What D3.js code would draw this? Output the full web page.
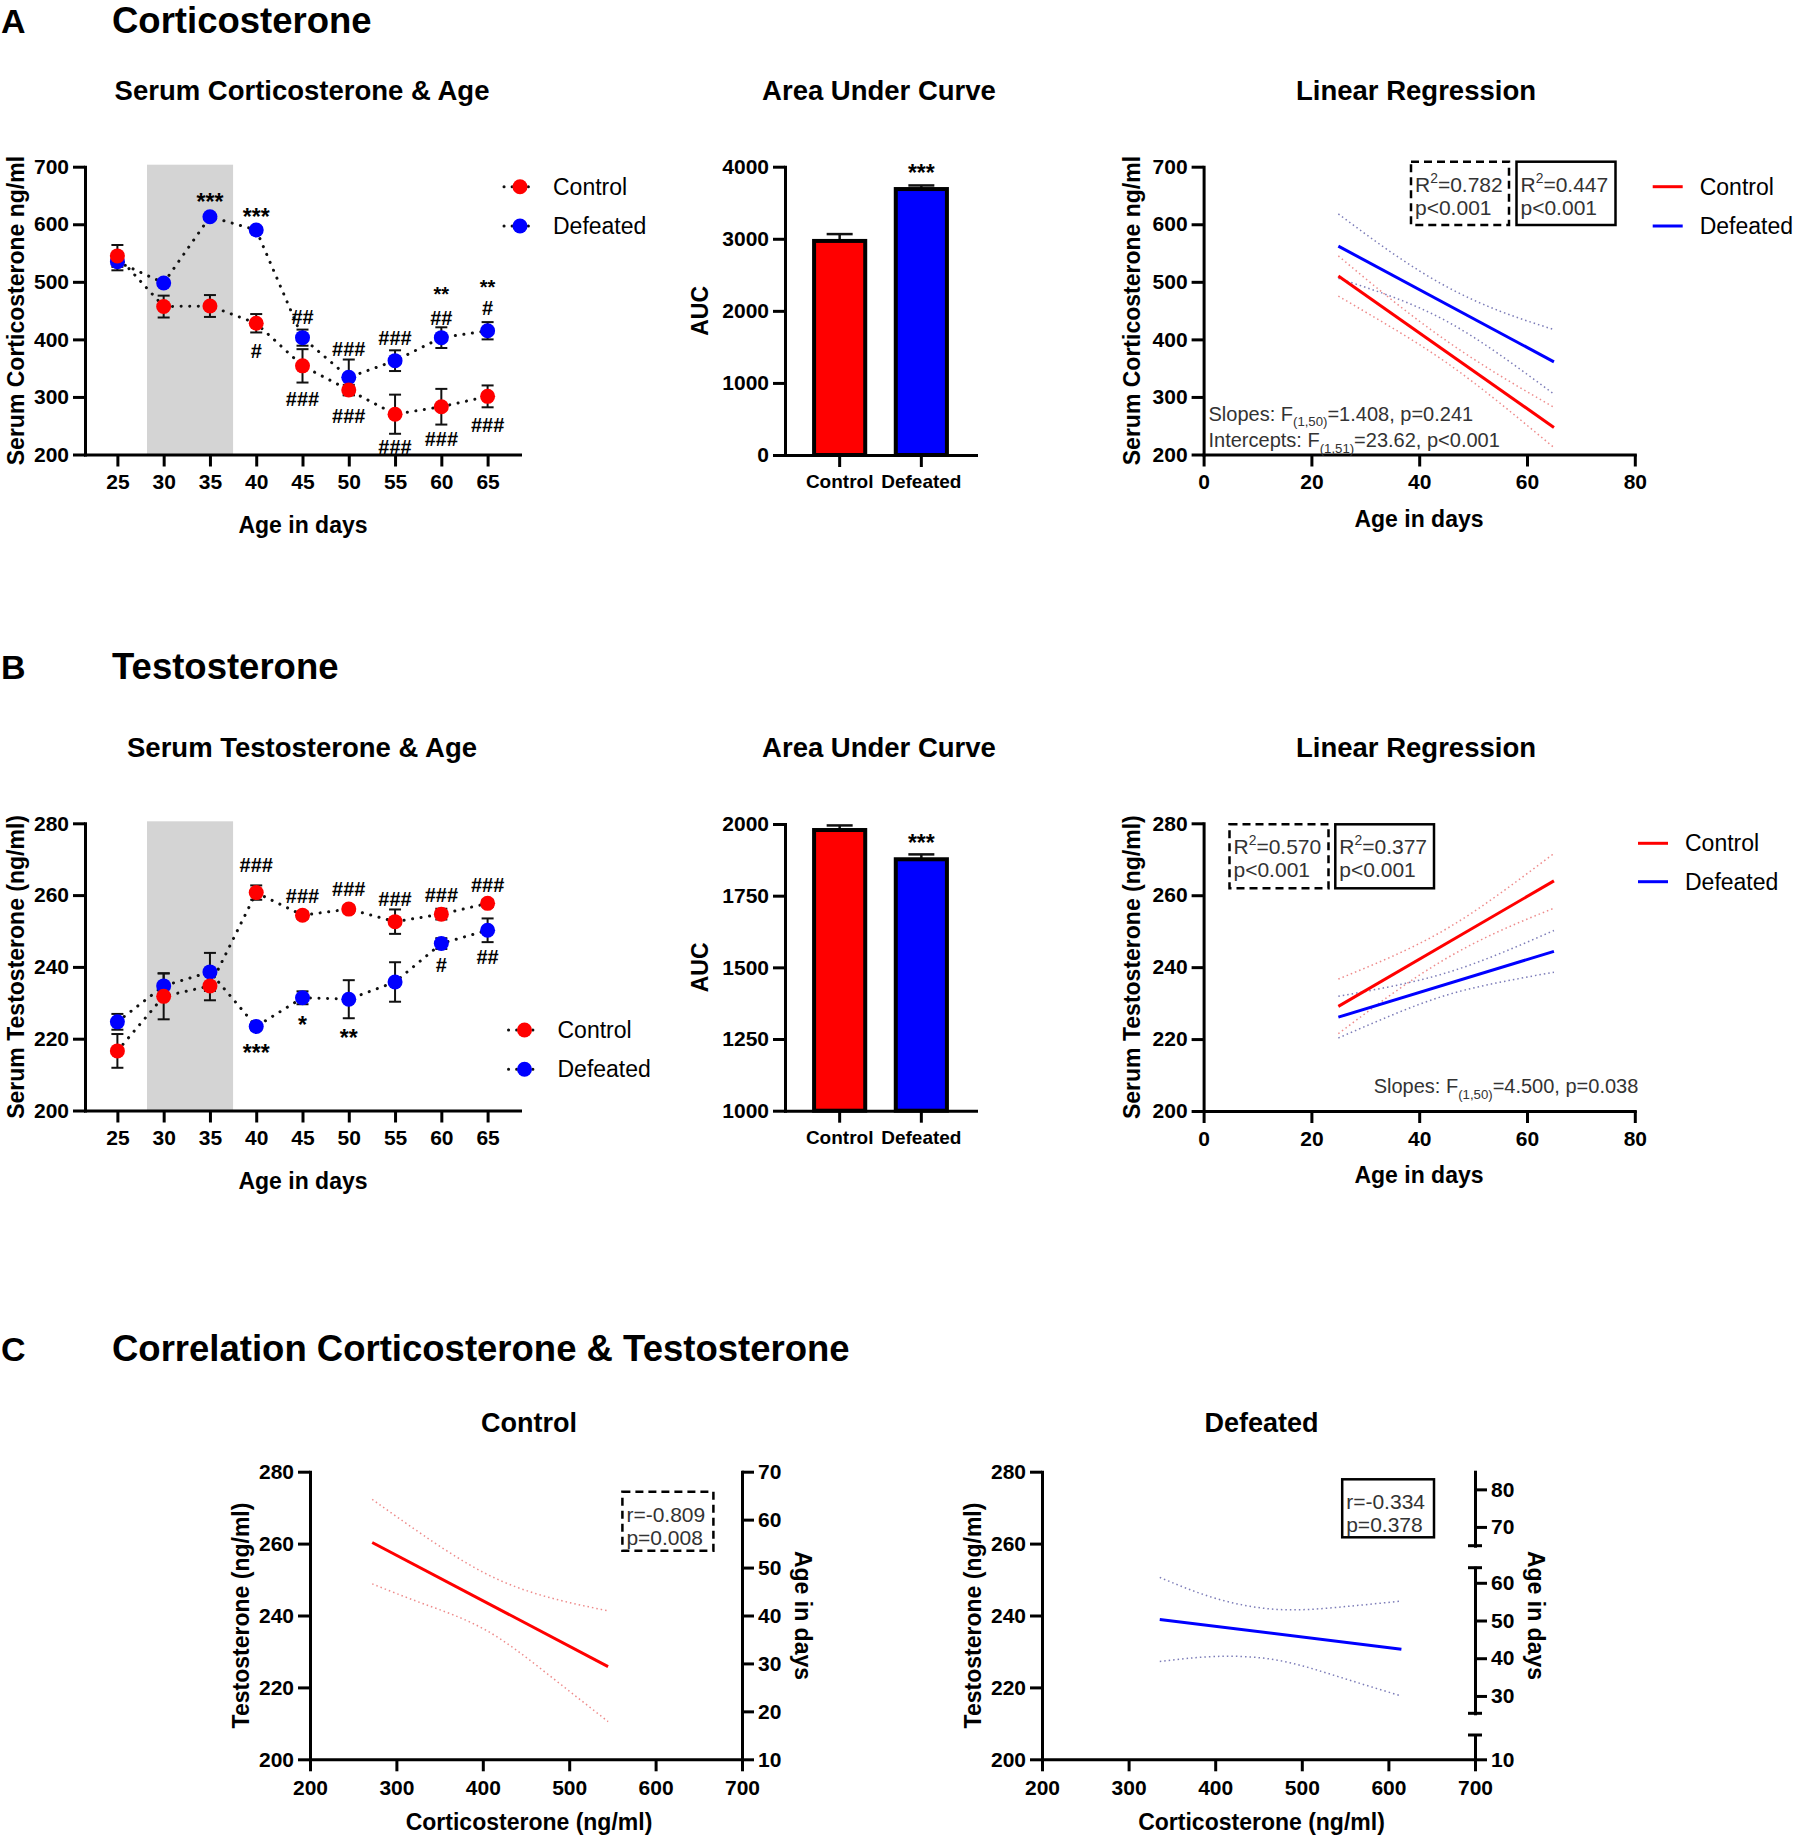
<!DOCTYPE html>
<html>
<head>
<meta charset="utf-8">
<title>Corticosterone and Testosterone</title>
<script src="https://cdn.jsdelivr.net/npm/d3@7"></script>
<style>
  body { margin: 0; background: #fff; }
  svg { display: block; }
</style>
</head>
<body>
<svg id="fig" width="1800" height="1841"></svg>
<script>
// ---------- data ----------
const ages = [25, 30, 35, 40, 45, 50, 55, 60, 65];
const shadeDays = [28.2, 37.5];

const cortControl     = [545, 457, 458, 428, 354, 312, 270, 283, 301];
const cortControlSem  = [19, 19, 19, 16, 29, 9, 34, 31, 19];
const cortDefeated    = [535, 498, 613, 590, 403, 334, 363, 403, 415];
const cortDefeatedSem = [15, 5, 5, 5, 14, 31, 18, 18, 15];

const testControl     = [216.6, 231.8, 234.7, 260.7, 254.4, 256.1, 252.6, 254.7, 257.7];
const testControlSem  = [4.7, 6.4, 4.0, 2.0, 1.0, 1.0, 3.4, 1.5, 1.0];
const testDefeated    = [224.7, 234.7, 238.6, 223.4, 231.4, 231.0, 235.8, 246.5, 250.2];
const testDefeatedSem = [2.2, 3.5, 5.3, 1.0, 1.8, 5.3, 5.5, 1.5, 3.3];

// significance marks: [age, level(s) on the y scale, label(s)]
const cortMarks = [
  [35, 649, "***"], [40, 622, "***"], [40, 380, "#"], [45, 439, "##"], [45, 297, "###"],
  [50, 383, "###"], [50, 268, "###"], [55, 402, "###"], [55, 214, "###"],
  [60, [479, 445], ["**", "##"]], [60, 228, "###"],
  [65, [491, 461], ["**", "#"]], [65, 251, "###"]
];
const testMarks = [
  [40, 268.4, "###"], [45, 259.7, "###"], [50, 261.7, "###"], [55, 259.1, "###"],
  [60, 260.2, "###"], [65, 262.8, "###"],
  [40, 217.7, "***"], [45, 225.3, "*"], [50, 221.9, "**"], [60, 240.5, "#"], [65, 242.8, "##"]
];

const groups = ["Control", "Defeated"];
const cortAuc = [2970, 3690];
const cortAucSem = [95, 50];
const testAuc = [1979, 1877];
const testAucSem = [16, 17];
const cortAucMark = [["Defeated", 4000, "***"]];
const testAucMark = [["Defeated", 1953, "***"]];

// regression fits and 95% bands
const fitAges = [25, 65];
const bandAges = [25, 35, 45, 55, 65];
const cortFitControl  = [510, 247];
const cortFitDefeated = [562, 361];
const cortBandControlHi  = [545, 468, 398, 337, 282];
const cortBandControlLo  = [475, 420, 360, 289, 212];
const cortBandDefeatedHi = [618, 550, 492, 449, 417];
const cortBandDefeatedLo = [506, 474, 432, 373, 305];

const testFitControl  = [229.1, 264.0];
const testFitDefeated = [226.1, 244.4];
const testBandControlHi  = [236.7, 243.0, 250.6, 260.5, 271.6];
const testBandControlLo  = [221.5, 232.6, 242.4, 250.1, 256.4];
const testBandDefeatedHi = [231.9, 234.7, 238.4, 243.8, 250.2];
const testBandDefeatedLo = [220.3, 226.7, 232.2, 235.8, 238.6];

// correlation (corticosterone vs testosterone)
const corrCtlX   = [272, 545];
const corrCtlFit = [260.3, 225.8];
const corrCtlBandX  = [272, 332, 403, 474, 545];
const corrCtlBandHi = [272.3, 262.2, 251.7, 245.2, 241.3];
const corrCtlBandLo = [248.8, 243.2, 236.0, 223.9, 210.5];
const corrDefX   = [336, 615];
const corrDefFit = [238.9, 230.6];
const corrDefBandX  = [336, 400, 471, 542, 615];
const corrDefBandHi = [250.6, 244.8, 241.7, 242.3, 244.0];
const corrDefBandLo = [227.2, 228.6, 227.6, 223.0, 217.6];

// tick values
const cortTicks = [200, 300, 400, 500, 600, 700];
const testTicks = [200, 220, 240, 260, 280];
const cortAucTicks = [0, 1000, 2000, 3000, 4000];
const testAucTicks = [1000, 1250, 1500, 1750, 2000];
const regAgeTicks = [0, 20, 40, 60, 80];
const corrTicks = [200, 300, 400, 500, 600, 700];
const ageRightTicks = [10, 20, 30, 40, 50, 60, 70];
// broken right axis of the Defeated correlation: [from, to, ticks]
const ageBreakSegments = [[65, 84.7, [70, 80]], [25.4, 64, [30, 40, 50, 60]], [10, 16.4, [10]]];

// ---------- drawing ----------
const FONT = '"Liberation Sans", Arial, Helvetica, sans-serif';
const RED = "#ff0000", BLUE = "#0000ff";
const svg = d3.select("#fig").attr("font-family", FONT);
const fmt = d3.format("d");

function addAxis(g, axis, tx, ty, size) {
  const a = g.append("g").attr("transform", "translate(" + tx + "," + ty + ")").call(axis);
  a.attr("font-size", size || 21).attr("font-family", FONT).attr("font-weight", "bold");
  a.select(".domain").attr("stroke", "#000").attr("stroke-width", 3).attr("stroke-linecap", "square");
  a.selectAll(".tick line").attr("stroke", "#000").attr("stroke-width", 3);
  a.selectAll(".tick text").attr("fill", "#000");
  return a;
}

function label(g, text, x, y, size, opts) {
  opts = opts || {};
  return g.append("text")
    .attr("transform", "translate(" + x + "," + y + ") rotate(" + (opts.rotate || 0) + ")")
    .attr("text-anchor", opts.anchor || "middle")
    .attr("dy", opts.dy || "0.35em")
    .attr("font-size", size)
    .attr("font-weight", opts.weight || "bold")
    .attr("fill", opts.fill || "#000")
    .text(text);
}

// text with sup / sub parts, y is baseline
function richText(g, x, y, parts, size) {
  const t = g.append("text").attr("x", x).attr("y", y).attr("font-size", size).attr("fill", "#333");
  let shift = 0;
  parts.forEach(p => {
    const target = p.sup ? -0.42 * size : p.sub ? 0.28 * size : 0;
    t.append("tspan").attr("dy", target - shift)
      .attr("font-size", (p.sup || p.sub) ? size * 0.66 : size).text(p.t);
    shift = target;
  });
}

// a significance mark; stacked marks are spread a little so their boxes stay apart
function sigMark(g, x, yScale, level, text) {
  const levels = Array.isArray(level) ? level : [level];
  const texts = Array.isArray(text) ? text : [text];
  const stacked = texts.length > 1;
  texts.forEach((s, i) => {
    const star = s.indexOf("*") >= 0;
    const size = star ? (stacked ? 20 : 23) : 20;
    const nudge = stacked ? (i === 0 ? -5 : 4) : 0;
    g.append("text").attr("x", x)
      .attr("y", yScale(levels[i]) + nudge + (star ? 0.6 : 0.36) * size)
      .attr("text-anchor", "middle").attr("font-weight", "bold")
      .attr("font-size", size).text(s);
  });
}

function statBox(g, x, y, w, h, dashed, lines) {
  g.append("rect").attr("x", x).attr("y", y).attr("width", w).attr("height", h)
    .attr("fill", "none").attr("stroke", "#000").attr("stroke-width", 2.5)
    .attr("stroke-dasharray", dashed ? "8 5" : null);
  lines.forEach((parts, i) => richText(g, x + 4, y + 30 + i * 23, parts, 21));
}

// ---------- time course panels ----------
function timeCourse(cfg) {
  const g = svg.append("g");
  const x = d3.scaleLinear().domain([21.5, 68.5]).range([85, 520]);
  const y = d3.scaleLinear().domain(cfg.yDomain).range([cfg.bottom, cfg.top]);

  g.append("rect")
    .attr("x", x(shadeDays[0])).attr("width", x(shadeDays[1]) - x(shadeDays[0]))
    .attr("y", y(cfg.yDomain[1]) - 2).attr("height", y(cfg.yDomain[0]) - y(cfg.yDomain[1]) + 2)
    .attr("fill", "#d4d4d4");

  addAxis(g, d3.axisLeft(y).tickValues(cfg.yTicks).tickFormat(fmt).tickSize(12).tickSizeOuter(0).tickPadding(4), 85, 0);
  addAxis(g, d3.axisBottom(x).tickValues(ages).tickFormat(fmt).tickSize(12).tickSizeOuter(0).tickPadding(8), 0, cfg.bottom);

  const series = cfg.series.map(s => Object.assign({}, s, {
    pts: ages.map((a, i) => ({ a: a, v: s.values[i], e: s.sem[i] }))
  }));

  const line = d3.line().x(d => x(d.a)).y(d => y(d.v));
  series.forEach(s => {
    g.append("path").datum(s.pts).attr("d", line)
      .attr("fill", "none").attr("stroke", "#111").attr("stroke-width", 3)
      .attr("stroke-linecap", "round").attr("stroke-dasharray", "0.1 8.5");
  });
  series.forEach(s => {
    const eb = g.append("g").attr("stroke", "#111").attr("stroke-width", 2)
      .selectAll("g").data(s.pts).join("g");
    eb.append("line").attr("x1", d => x(d.a)).attr("x2", d => x(d.a))
      .attr("y1", d => y(d.v - d.e)).attr("y2", d => y(d.v + d.e));
    eb.append("line").attr("x1", d => x(d.a) - 6).attr("x2", d => x(d.a) + 6)
      .attr("y1", d => y(d.v + d.e)).attr("y2", d => y(d.v + d.e));
    eb.append("line").attr("x1", d => x(d.a) - 6).attr("x2", d => x(d.a) + 6)
      .attr("y1", d => y(d.v - d.e)).attr("y2", d => y(d.v - d.e));
  });
  series.forEach(s => {
    g.append("g").selectAll("circle").data(s.pts).join("circle")
      .attr("cx", d => x(d.a)).attr("cy", d => y(d.v)).attr("r", 7.5)
      .attr("fill", s.color);
  });

  cfg.marks.forEach(m => sigMark(g, x(m[0]), y, m[1], m[2]));

  // legend
  cfg.legend.items.forEach((it, i) => {
    const ly = cfg.legend.y + i * cfg.legend.gap;
    g.append("line").attr("x1", cfg.legend.x - 16).attr("x2", cfg.legend.x + 16)
      .attr("y1", ly).attr("y2", ly)
      .attr("stroke", "#111").attr("stroke-width", 3).attr("stroke-linecap", "round")
      .attr("stroke-dasharray", "0.1 8");
    g.append("circle").attr("cx", cfg.legend.x).attr("cy", ly).attr("r", 7.5).attr("fill", it.color);
    label(g, it.name, cfg.legend.x + 33, ly, 23, { anchor: "start", weight: "normal" });
  });

  label(g, cfg.yTitle, 16, (cfg.top + cfg.bottom) / 2, 23, { rotate: -90 });
  label(g, "Age in days", 303, cfg.bottom + 70, 23);
}

// ---------- AUC bar panels ----------
function aucPanel(cfg) {
  const g = svg.append("g");
  const x = d3.scaleBand().domain(groups).range([785, 976]).paddingInner(0.374).paddingOuter(0.356);
  const y = d3.scaleLinear().domain(cfg.yDomain).range([cfg.bottom, cfg.top]);
  const colors = [RED, BLUE];
  const cx = d => x(d.g) + x.bandwidth() / 2;

  const data = groups.map((gname, i) => ({ g: gname, v: cfg.values[i], e: cfg.sem[i], c: colors[i] }));

  const eb = g.append("g").attr("stroke", "#111").attr("stroke-width", 2.5)
    .selectAll("g").data(data).join("g");
  eb.append("line").attr("x1", cx).attr("x2", cx)
    .attr("y1", d => y(d.v)).attr("y2", d => y(d.v + d.e));
  eb.append("line").attr("x1", d => cx(d) - 13).attr("x2", d => cx(d) + 13)
    .attr("y1", d => y(d.v + d.e)).attr("y2", d => y(d.v + d.e));

  g.append("g").selectAll("rect").data(data).join("rect")
    .attr("x", d => x(d.g)).attr("width", x.bandwidth())
    .attr("y", d => y(d.v)).attr("height", d => y(cfg.yDomain[0]) - y(d.v))
    .attr("fill", d => d.c).attr("stroke", "#000").attr("stroke-width", 4);

  addAxis(g, d3.axisLeft(y).tickValues(cfg.yTicks).tickFormat(fmt).tickSize(12).tickSizeOuter(0).tickPadding(4), 785, 0);
  addAxis(g, d3.axisBottom(x).tickSize(12).tickSizeOuter(0).tickPadding(8), 0, cfg.bottom, 19);

  cfg.marks.forEach(m => sigMark(g, x(m[0]) + x.bandwidth() / 2, y, m[1], m[2]));
  label(g, "AUC", 700, (cfg.top + cfg.bottom) / 2, 23, { rotate: -90 });
}

// ---------- regression panels ----------
function regressionPanel(cfg) {
  const g = svg.append("g");
  const x = d3.scaleLinear().domain([0, 80]).range([1203.6, 1634.8]);
  const y = d3.scaleLinear().domain(cfg.yDomain).range([cfg.bottom, cfg.top]);

  addAxis(g, d3.axisLeft(y).tickValues(cfg.yTicks).tickFormat(fmt).tickSize(12).tickSizeOuter(0).tickPadding(4), 1203.6, 0);
  addAxis(g, d3.axisBottom(x).tickValues(regAgeTicks).tickFormat(fmt).tickSize(12).tickSizeOuter(0).tickPadding(8), 0, cfg.bottom);

  const curve = d3.line().x(d => x(d[0])).y(d => y(d[1])).curve(d3.curveNatural);
  const straight = d3.line().x(d => x(d[0])).y(d => y(d[1]));
  cfg.series.forEach(s => {
    [s.hi, s.lo].forEach(vals => {
      g.append("path").attr("d", curve(bandAges.map((a, i) => [a, vals[i]])))
        .attr("fill", "none").attr("stroke", s.band).attr("stroke-width", 1.5)
        .attr("stroke-dasharray", "1.5 3");
    });
  });
  cfg.series.forEach(s => {
    g.append("path").attr("d", straight(fitAges.map((a, i) => [a, s.fit[i]])))
      .attr("fill", "none").attr("stroke", s.color).attr("stroke-width", 3);
  });

  cfg.boxes.forEach(b => statBox(g, b.x, b.y, b.w, b.h, b.dashed, b.lines));
  cfg.notes.forEach(n => richText(g, n.x, n.y, n.parts, 20));

  cfg.legend.items.forEach((it, i) => {
    const ly = cfg.legend.y + i * cfg.legend.gap;
    g.append("line").attr("x1", cfg.legend.x).attr("x2", cfg.legend.x + 30)
      .attr("y1", ly).attr("y2", ly).attr("stroke", it.color).attr("stroke-width", 3);
    label(g, it.name, cfg.legend.x + 47, ly, 23, { anchor: "start", weight: "normal" });
  });

  label(g, cfg.yTitle, 1132, (cfg.top + cfg.bottom) / 2, 23, { rotate: -90 });
  label(g, "Age in days", 1419, cfg.bottom + 64, 23);
}

// ---------- correlation panels ----------
function correlationPanel(cfg) {
  const g = svg.append("g");
  const top = 1471.7, bottom = 1759.3;
  const x = d3.scaleLinear().domain([200, 700]).range([cfg.left, cfg.right]);
  const y = d3.scaleLinear().domain([200, 280]).range([bottom, top]);

  addAxis(g, d3.axisLeft(y).tickValues(testTicks).tickFormat(fmt).tickSize(12).tickSizeOuter(0).tickPadding(4), cfg.left, 0);
  addAxis(g, d3.axisBottom(x).tickValues(corrTicks).tickFormat(fmt).tickSize(12).tickSizeOuter(0).tickPadding(9), 0, bottom);

  if (cfg.broken) {
    // three pieces of a broken age axis, each with its own scale
    const pieceRanges = [[1545.7, top], [1713.3, 1567.7], [bottom, 1735]];
    ageBreakSegments.forEach((seg, i) => {
      const sy = d3.scaleLinear().domain([seg[0], seg[1]]).range(pieceRanges[i]);
      addAxis(g, d3.axisRight(sy).tickValues(seg[2]).tickFormat(fmt).tickSize(12).tickSizeOuter(0).tickPadding(4), cfg.right, 0);
      sy.range().forEach((py, k) => {
        if ((i === 0 && k === 1) || (i === ageBreakSegments.length - 1 && k === 0)) return;
        g.append("line").attr("x1", cfg.right - 7).attr("x2", cfg.right + 7)
          .attr("y1", py).attr("y2", py).attr("stroke", "#000").attr("stroke-width", 3);
      });
    });
  } else {
    const yr = d3.scaleLinear().domain([10, 70]).range([bottom, top]);
    addAxis(g, d3.axisRight(yr).tickValues(ageRightTicks).tickFormat(fmt).tickSize(12).tickSizeOuter(0).tickPadding(4), cfg.right, 0);
  }

  const curve = d3.line().x(d => x(d[0])).y(d => y(d[1])).curve(d3.curveNatural);
  [cfg.bandHi, cfg.bandLo].forEach(vals => {
    g.append("path").attr("d", curve(cfg.bandX.map((v, i) => [v, vals[i]])))
      .attr("fill", "none").attr("stroke", cfg.band).attr("stroke-width", 1.5)
      .attr("stroke-dasharray", "1.5 3");
  });
  g.append("path").attr("d", d3.line().x(d => x(d[0])).y(d => y(d[1]))(cfg.fitX.map((v, i) => [v, cfg.fit[i]])))
    .attr("fill", "none").attr("stroke", cfg.color).attr("stroke-width", 3);

  statBox(g, cfg.box.x, cfg.box.y, cfg.box.w, cfg.box.h, cfg.box.dashed, cfg.box.lines);

  label(g, cfg.title, (cfg.left + cfg.right) / 2 + 3, 1423, 27);
  label(g, "Testosterone (ng/ml)", cfg.left - 69, (top + bottom) / 2, 23, { rotate: -90 });
  label(g, "Age in days", cfg.right + 61, (top + bottom) / 2, 23, { rotate: 90 });
  label(g, "Corticosterone (ng/ml)", (cfg.left + cfg.right) / 2 + 3, 1821.7, 23);
}

// ---------- headers ----------
[["A", 33, "Corticosterone"], ["B", 679, "Testosterone"], ["C", 1361, "Correlation Corticosterone & Testosterone"]]
  .forEach(h => {
    svg.append("text").attr("x", 1).attr("y", h[1]).attr("font-size", 34).attr("font-weight", "bold").text(h[0]);
    svg.append("text").attr("x", 112).attr("y", h[1]).attr("font-size", 36.5).attr("font-weight", "bold").text(h[2]);
  });
[["Serum Corticosterone & Age", 302, 90], ["Area Under Curve", 879, 90], ["Linear Regression", 1416, 90],
 ["Serum Testosterone & Age", 302, 747], ["Area Under Curve", 879, 747], ["Linear Regression", 1416, 747]]
  .forEach(t => label(svg, t[0], t[1], t[2], 27.5));

// ---------- panels ----------
timeCourse({
  yDomain: [200, 700], top: 166.7, bottom: 454.5, yTicks: cortTicks,
  yTitle: "Serum Corticosterone ng/ml",
  series: [
    { name: "Defeated", color: BLUE, values: cortDefeated, sem: cortDefeatedSem },
    { name: "Control", color: RED, values: cortControl, sem: cortControlSem }
  ],
  marks: cortMarks,
  legend: { x: 520, y: 186.7, gap: 39.3, items: [{ name: "Control", color: RED }, { name: "Defeated", color: BLUE }] }
});

timeCourse({
  yDomain: [200, 280], top: 823.3, bottom: 1110.5, yTicks: testTicks,
  yTitle: "Serum Testosterone (ng/ml)",
  series: [
    { name: "Defeated", color: BLUE, values: testDefeated, sem: testDefeatedSem },
    { name: "Control", color: RED, values: testControl, sem: testControlSem }
  ],
  marks: testMarks,
  legend: { x: 524.5, y: 1030, gap: 39.3, items: [{ name: "Control", color: RED }, { name: "Defeated", color: BLUE }] }
});

aucPanel({ yDomain: [0, 4000], top: 166.7, bottom: 455, yTicks: cortAucTicks,
  values: cortAuc, sem: cortAucSem, marks: cortAucMark });
aucPanel({ yDomain: [1000, 2000], top: 824, bottom: 1110.7, yTicks: testAucTicks,
  values: testAuc, sem: testAucSem, marks: testAucMark });

regressionPanel({
  yDomain: [200, 700], top: 166.7, bottom: 454.5, yTicks: cortTicks,
  yTitle: "Serum Corticosterone ng/ml",
  series: [
    { color: RED, band: "#ee8a8a", fit: cortFitControl, hi: cortBandControlHi, lo: cortBandControlLo },
    { color: BLUE, band: "#7c7cb8", fit: cortFitDefeated, hi: cortBandDefeatedHi, lo: cortBandDefeatedLo }
  ],
  boxes: [
    { x: 1411, y: 161.7, w: 98, h: 63.3, dashed: true, lines: [[{ t: "R" }, { t: "2", sup: true }, { t: "=0.782" }], [{ t: "p<0.001" }]] },
    { x: 1516.5, y: 161.7, w: 99, h: 63.3, dashed: false, lines: [[{ t: "R" }, { t: "2", sup: true }, { t: "=0.447" }], [{ t: "p<0.001" }]] }
  ],
  notes: [
    { x: 1208.5, y: 420.5, parts: [{ t: "Slopes: F" }, { t: "(1,50)", sub: true }, { t: "=1.408, p=0.241" }] },
    { x: 1208.5, y: 447, parts: [{ t: "Intercepts: F" }, { t: "(1,51)", sub: true }, { t: "=23.62, p<0.001" }] }
  ],
  legend: { x: 1652.7, y: 186.7, gap: 39.3, items: [{ name: "Control", color: RED }, { name: "Defeated", color: BLUE }] }
});

regressionPanel({
  yDomain: [200, 280], top: 823.3, bottom: 1111, yTicks: testTicks,
  yTitle: "Serum Testosterone (ng/ml)",
  series: [
    { color: RED, band: "#ee8a8a", fit: testFitControl, hi: testBandControlHi, lo: testBandControlLo },
    { color: BLUE, band: "#7c7cb8", fit: testFitDefeated, hi: testBandDefeatedHi, lo: testBandDefeatedLo }
  ],
  boxes: [
    { x: 1229.5, y: 824.3, w: 99, h: 64, dashed: true, lines: [[{ t: "R" }, { t: "2", sup: true }, { t: "=0.570" }], [{ t: "p<0.001" }]] },
    { x: 1335.3, y: 824.3, w: 98.7, h: 64, dashed: false, lines: [[{ t: "R" }, { t: "2", sup: true }, { t: "=0.377" }], [{ t: "p<0.001" }]] }
  ],
  notes: [
    { x: 1373.7, y: 1093, parts: [{ t: "Slopes: F" }, { t: "(1,50)", sub: true }, { t: "=4.500, p=0.038" }] }
  ],
  legend: { x: 1638, y: 843.3, gap: 38.4, items: [{ name: "Control", color: RED }, { name: "Defeated", color: BLUE }] }
});

correlationPanel({
  title: "Control", left: 310, right: 742, broken: false,
  color: RED, band: "#ee8a8a",
  fitX: corrCtlX, fit: corrCtlFit, bandX: corrCtlBandX, bandHi: corrCtlBandHi, bandLo: corrCtlBandLo,
  box: { x: 622.4, y: 1491.7, w: 91, h: 59, dashed: true, lines: [[{ t: "r=-0.809" }], [{ t: "p=0.008" }]] }
});

correlationPanel({
  title: "Defeated", left: 1042, right: 1475, broken: true,
  color: BLUE, band: "#7c7cb8",
  fitX: corrDefX, fit: corrDefFit, bandX: corrDefBandX, bandHi: corrDefBandHi, bandLo: corrDefBandLo,
  box: { x: 1342.2, y: 1479.3, w: 91.8, h: 58, dashed: false, lines: [[{ t: "r=-0.334" }], [{ t: "p=0.378" }]] }
});
</script>
</body>
</html>
